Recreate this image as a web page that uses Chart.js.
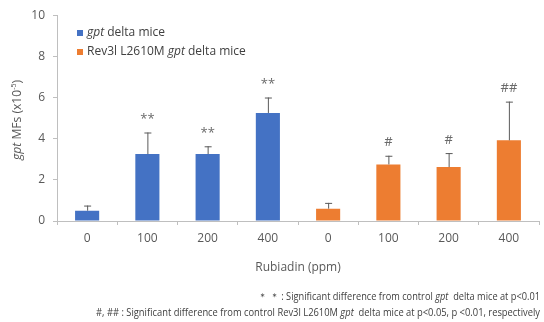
<!DOCTYPE html>
<html>
<head>
<meta charset="utf-8">
<script src="https://cdn.jsdelivr.net/npm/chart.js@4"></script>
<style>
  html, body { margin: 0; padding: 0; background: #fff; }
  #wrap { width: 544px; height: 322px; position: relative; }
</style>
</head>
<body>
<div id="wrap"><canvas id="chart" width="544" height="322"></canvas></div>
<script>
// 数据
const doseLabels = ['0', '100', '200', '400', '0', '100', '200', '400'];
const gptMeans = [0.5, 3.25, 3.25, 5.25];
const gptErrors = [0.25, 1.05, 0.38, 0.75];
const rev3lMeans = [0.6, 2.75, 2.62, 3.92];
const rev3lErrors = [0.28, 0.42, 0.68, 1.88];
const gptMarks = ['', '**', '**', '**'];
const rev3lMarks = ['', '#', '#', '##'];

const BLUE = '#4472C4';
const ORANGE = '#ED7D31';
const TEXT = '#595959';
const AXIS = '#bfbfbf';
const FONT = '"Open Sans", "Noto Sans", sans-serif';

const pad = arr => arr.concat([null, null, null, null]);
const padLeft = arr => [null, null, null, null].concat(arr);

// 画混合字体的一行文字 (parts: [text, italic, size, dy])
function drawParts(ctx, parts, x, y, size, align, targetWidth) {
    const fontOf = p => (p[1] ? 'italic ' : '') + (p[2] || size) + 'px ' + FONT;
    const widths = parts.map(p => {
        ctx.font = fontOf(p);
        return ctx.measureText(p[0]).width;
    });
    const total = widths.reduce((a, b) => a + b, 0);
    const sx = targetWidth ? targetWidth / total : 1;
    let start = align === 'right' ? x - total * sx : align === 'center' ? x - total * sx / 2 : x;
    ctx.save();
    ctx.translate(start, y);
    ctx.scale(sx, 1);
    ctx.textAlign = 'left';
    ctx.textBaseline = 'middle';
    let cx = 0;
    parts.forEach((p, i) => {
        ctx.font = fontOf(p);
        ctx.fillText(p[0], cx, p[3] || 0);
        cx += widths[i];
    });
    ctx.restore();
}

const extras = {
    id: 'extras',
    afterDatasetsDraw(chart) {
        const ctx = chart.ctx;
        const x = chart.scales.x;
        const y = chart.scales.y;

        // 误差线
        const drawErr = (means, errs, offset, marks) => {
            means.forEach((m, i) => {
                const cx = x.getPixelForValue(i + offset);
                const top = y.getPixelForValue(m + errs[i]);
                const base = y.getPixelForValue(m);
                ctx.save();
                ctx.strokeStyle = '#5a5a5a';
                ctx.lineWidth = 1;
                ctx.beginPath();
                ctx.moveTo(cx + 0.5, base);
                ctx.lineTo(cx + 0.5, top);
                ctx.moveTo(cx - 3, top + 0.5);
                ctx.lineTo(cx + 4, top + 0.5);
                ctx.stroke();
                ctx.restore();
                if (marks[i]) {
                    ctx.save();
                    ctx.fillStyle = '#6a6a6a';
                    ctx.textAlign = 'center';
                    ctx.textBaseline = 'middle';
                    ctx.font = '13px ' + FONT;
                    ctx.fillText(marks[i], cx, top - 13);
                    ctx.restore();
                }
            });
        };
        drawErr(gptMeans, gptErrors, 0, gptMarks);
        drawErr(rev3lMeans, rev3lErrors, 4, rev3lMarks);
    },
    afterDraw(chart) {
        const ctx = chart.ctx;
        const area = chart.chartArea;
        ctx.save();

        // 图例
        const legend = [
            [BLUE, [['gpt', true], [' delta mice', false]]],
            [ORANGE, [['Rev3l L2610M ', false], ['gpt', true], [' delta mice', false]]]
        ];
        legend.forEach((item, i) => {
            const ly = 33 + i * 19;
            ctx.fillStyle = item[0];
            ctx.fillRect(77, ly - 3, 6, 6);
            ctx.fillStyle = '#404040';
            drawParts(ctx, item[1], 87, ly, 12, 'left');
        });

        // Y轴标题
        ctx.save();
        ctx.translate(18, 120);
        ctx.rotate(-Math.PI / 2);
        ctx.fillStyle = TEXT;
        drawParts(ctx, [['gpt', true], [' MFs (x10', false], ['-5', false, 7, -4], [')', false]],
            0, 0, 12, 'center', 80);
        ctx.restore();

        // X轴标题
        ctx.fillStyle = TEXT;
        drawParts(ctx, [['Rubiadin (ppm)', false]], (area.left + area.right) / 2, 268, 12, 'center');

        // 注释
        ctx.fillStyle = '#404040';
        drawParts(ctx, [['\uFF0A \uFF0A : Significant difference from control ', false], ['gpt', true],
            ['  delta mice at p<0.01', false]], 540, 297, 10, 'right', 282);
        drawParts(ctx, [['#, ## : Significant difference from control Rev3l L2610M ', false], ['gpt', true],
            ['  delta mice at p<0.05, p <0.01, respectively', false]], 540, 313, 10, 'right', 444);
        ctx.restore();
    }
};

const chart = new Chart(document.getElementById('chart'), {
    type: 'bar',
    data: {
        labels: doseLabels,
        datasets: [
            { label: 'gpt delta mice', data: pad(gptMeans), backgroundColor: BLUE },
            { label: 'Rev3l L2610M gpt delta mice', data: padLeft(rev3lMeans), backgroundColor: ORANGE }
        ]
    },
    options: {
        responsive: false,
        animation: false,
        events: [],
        layout: { padding: { top: 14, right: 5, left: 0, bottom: 0 } },
        datasets: { bar: { grouped: false, categoryPercentage: 1, barPercentage: 0.4 } },
        plugins: { legend: { display: false }, tooltip: { enabled: false } },
        scales: {
            x: {
                grid: { display: true, drawOnChartArea: false, color: AXIS, tickLength: 4, offset: true },
                border: { color: AXIS },
                ticks: { color: TEXT, font: { size: 12, family: FONT }, padding: 6, maxRotation: 0 },
                afterFit: s => { s.height = 101; }
            },
            y: {
                min: 0, max: 10,
                grid: { display: true, drawOnChartArea: false, color: AXIS, tickLength: 4 },
                border: { color: AXIS },
                ticks: { stepSize: 2, color: TEXT, font: { size: 12, family: FONT }, padding: 8 },
                afterFit: s => { s.width = 57; }
            }
        }
    },
    plugins: [extras]
});
</script>
</body>
</html>
